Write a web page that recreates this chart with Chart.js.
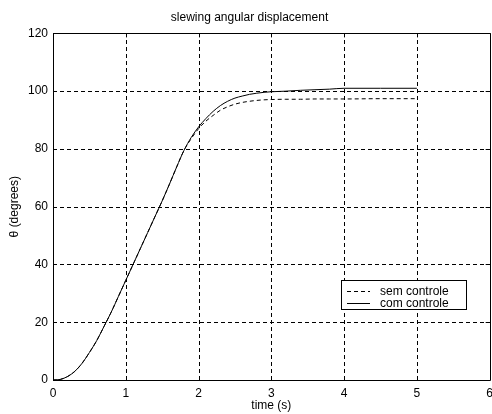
<!DOCTYPE html>
<html>
<head>
<meta charset="utf-8">
<script src="https://cdn.jsdelivr.net/npm/chart.js@4/dist/chart.umd.min.js"></script>
<style>
    html, body { margin: 0; padding: 0; background: #fff; overflow: hidden; width: 492px; height: 414px; }
    #wrap { width: 499px; height: 414px; }
</style>
</head>
<body>
<div id="wrap"><canvas id="chart" width="499" height="414"></canvas></div>
<script>
// time (s)
const time = [
    0.0, 0.1, 0.2, 0.3, 0.4, 0.5, 0.6, 0.7, 0.8, 0.9,
    1.0, 1.1, 1.2, 1.3, 1.4, 1.5, 1.6, 1.7, 1.8, 1.9,
    2.0, 2.1, 2.2, 2.3, 2.4, 2.5, 2.6, 2.7, 2.8, 2.9,
    3.0, 3.2, 3.4, 3.6, 3.8, 4.0, 4.5, 5.0
];

// theta (degrees) - com controle
const comControle = [
    0.0, 0.2, 1.2, 3.0, 5.8, 9.5, 13.6, 18.5, 23.5, 29.0,
    34.5, 40.0, 45.5, 51.0, 56.5, 62.0, 67.8, 73.8, 79.5, 84.0,
    87.6, 90.5, 93.0, 95.0, 96.5, 97.6, 98.3, 98.9, 99.3, 99.6,
    99.8, 100.0, 100.3, 100.5, 100.7, 101.0, 101.0, 101.0
];

// theta (degrees) - sem controle
const semControle = [
    0.0, 0.2, 1.2, 3.0, 5.8, 9.5, 13.6, 18.5, 23.5, 29.0,
    34.5, 40.0, 45.5, 51.0, 56.5, 62.0, 67.8, 73.8, 79.5, 83.6,
    87.0, 89.6, 91.6, 93.4, 94.6, 95.5, 96.1, 96.5, 96.8, 97.0,
    97.1, 97.2, 97.2, 97.3, 97.3, 97.3, 97.4, 97.4
];

const xTicks = [0, 1, 2, 3, 4, 5, 6];
const yTicks = [0, 20, 40, 60, 80, 100, 120];

const FONT = 'Liberation Sans, Arial, sans-serif';
const GRID_DASH = [4, 3];

const toPoints = (xs, ys) => xs.map((x, i) => ({ x: x, y: ys[i] }));
const px = (v) => Math.round(v) + 0.5;

// grade tracejada (estilo matlab)
const matlabGrid = {
    id: 'matlabGrid',
    beforeDatasetsDraw: (chart) => {
        const ctx = chart.ctx;
        const a = chart.chartArea;
        const xs = chart.scales.x;
        const ys = chart.scales.y;
        ctx.save();
        ctx.strokeStyle = '#000';
        ctx.lineWidth = 1;
        ctx.lineCap = 'butt';
        xTicks.slice(1, -1).forEach(t => {
            const x = px(xs.getPixelForValue(t));
            ctx.beginPath();
            ctx.setLineDash(GRID_DASH);
            ctx.moveTo(x, Math.round(a.top));
            ctx.lineTo(x, Math.round(a.bottom));
            ctx.stroke();
        });
        yTicks.slice(1, -1).forEach(t => {
            const y = px(ys.getPixelForValue(t));
            ctx.beginPath();
            ctx.setLineDash(GRID_DASH);
            ctx.moveTo(Math.round(a.left), y);
            ctx.lineTo(Math.round(a.right), y);
            ctx.stroke();
        });
        ctx.restore();
    }
};

// caixa do eixo + ticks para dentro + legenda dentro do gráfico
const matlabFrame = {
    id: 'matlabFrame',
    afterDraw: (chart) => {
        const ctx = chart.ctx;
        const a = chart.chartArea;
        const xs = chart.scales.x;
        const ys = chart.scales.y;

        ctx.save();
        ctx.strokeStyle = '#000';
        ctx.lineWidth = 1;
        ctx.setLineDash([]);
        ctx.beginPath();
        ctx.rect(px(a.left), px(a.top), Math.round(a.right) - Math.round(a.left), Math.round(a.bottom) - Math.round(a.top));
        xTicks.forEach(t => {
            const x = px(xs.getPixelForValue(t));
            ctx.moveTo(x, a.bottom); ctx.lineTo(x, a.bottom - 4);
            ctx.moveTo(x, a.top); ctx.lineTo(x, a.top + 4);
        });
        yTicks.forEach(t => {
            const y = px(ys.getPixelForValue(t));
            ctx.moveTo(a.left, y); ctx.lineTo(a.left + 4, y);
            ctx.moveTo(a.right, y); ctx.lineTo(a.right - 4, y);
        });
        ctx.stroke();

        // legenda
        const boxR = Math.round(a.right) - 24;
        const boxB = Math.round(a.bottom) - 71;
        const boxW = 125, boxH = 29;
        const boxL = boxR - boxW, boxT = boxB - boxH;
        ctx.fillStyle = '#fff';
        ctx.fillRect(boxL, boxT, boxW, boxH);
        ctx.strokeRect(boxL + 0.5, boxT + 0.5, boxW, boxH);
        ctx.font = '12px ' + FONT;
        ctx.textBaseline = 'middle';
        ctx.textAlign = 'left';
        chart.data.datasets.forEach((ds, i) => {
            const y = boxT + 10.5 + i * 12;
            ctx.beginPath();
            ctx.setLineDash(ds.borderDash || []);
            ctx.moveTo(boxL + 6, px(y));
            ctx.lineTo(boxL + 29, px(y));
            ctx.stroke();
            ctx.setLineDash([]);
            ctx.fillStyle = '#000';
            ctx.fillText(ds.label, boxL + 39, y + 1);
        });
        ctx.restore();
    }
};

const config = {
    type: 'line',
    data: {
        datasets: [
            {
                label: 'sem controle',
                data: toPoints(time, semControle),
                borderColor: '#000',
                borderWidth: 1,
                borderDash: [4, 3],
                pointRadius: 0,
                cubicInterpolationMode: 'monotone',
                fill: false
            },
            {
                label: 'com controle',
                data: toPoints(time, comControle),
                borderColor: '#000',
                borderWidth: 1,
                pointRadius: 0,
                cubicInterpolationMode: 'monotone',
                fill: false
            }
        ]
    },
    options: {
        responsive: false,
        animation: false,
        layout: { padding: 0 },
        plugins: {
            legend: { display: false },
            tooltip: { enabled: false },
            title: {
                display: true,
                text: 'slewing angular displacement',
                color: '#000',
                font: { family: FONT, size: 12, weight: 'normal' },
                padding: { top: 10, bottom: 9 }
            }
        },
        scales: {
            x: {
                type: 'linear',
                min: 0,
                max: 6,
                afterBuildTicks: (scale) => { scale.ticks = xTicks.map(v => ({ value: v })); },
                afterFit: (scale) => { scale.height = 34; },
                ticks: {
                    color: '#000',
                    padding: 6,
                    maxRotation: 0,
                    font: { family: FONT, size: 12 }
                },
                grid: { display: false, drawTicks: false },
                border: { display: false },
                title: {
                    display: true,
                    text: 'time (s)',
                    color: '#000',
                    font: { family: FONT, size: 12 },
                    padding: { top: 0, bottom: 1 }
                }
            },
            y: {
                min: 0,
                max: 120,
                afterBuildTicks: (scale) => { scale.ticks = yTicks.map(v => ({ value: v })); },
                afterFit: (scale) => { scale.width = 53; },
                ticks: {
                    color: '#000',
                    padding: 5,
                    font: { family: FONT, size: 12 }
                },
                grid: { display: false, drawTicks: false },
                border: { display: false },
                title: {
                    display: true,
                    text: 'θ (degrees)',
                    color: '#000',
                    font: { family: FONT, size: 12 },
                    padding: { top: 7, bottom: 0 }
                }
            }
        }
    },
    plugins: [matlabGrid, matlabFrame]
};

const ctx = document.getElementById('chart').getContext('2d');
const chart = new Chart(ctx, config);
</script>
</body>
</html>
